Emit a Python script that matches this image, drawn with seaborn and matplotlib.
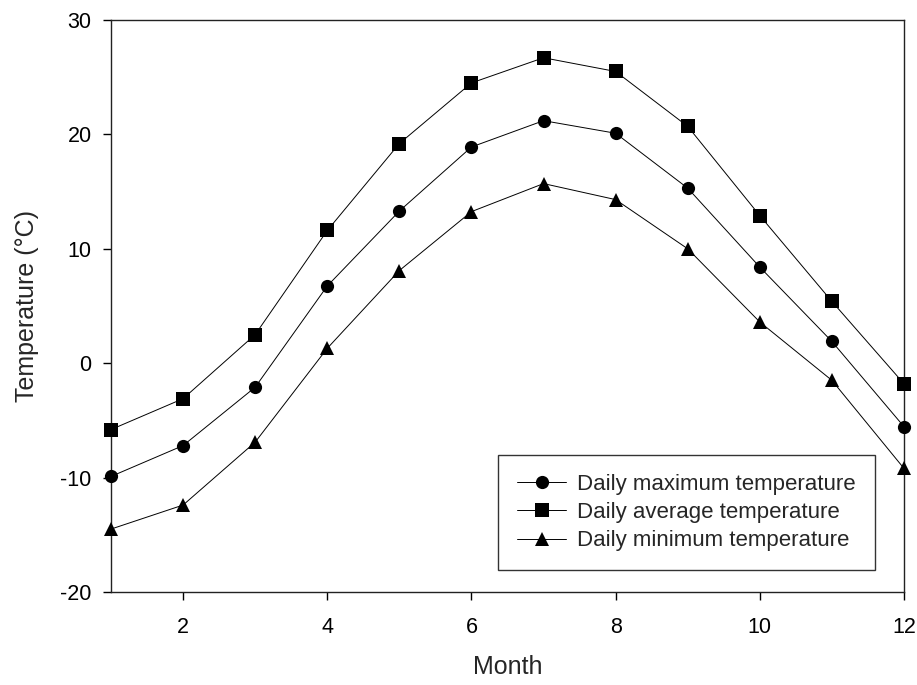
import matplotlib
matplotlib.use("Agg")
import matplotlib.pyplot as plt
import seaborn as sns
import pandas as pd

months = [1, 2, 3, 4, 5, 6, 7, 8, 9, 10, 11, 12]
daily_max = [-9.9, -7.2, -2.1, 6.75, 13.3, 18.9, 21.2, 20.1, 15.3, 8.4, 1.9, -5.55]
daily_avg = [-5.8, -3.1, 2.5, 11.6, 19.2, 24.5, 26.7, 25.5, 20.7, 12.9, 5.4, -1.8]
daily_min = [-14.5, -12.4, -6.9, 1.3, 8.1, 13.25, 15.7, 14.3, 10.0, 3.6, -1.5, -9.2]
labels = ["Daily maximum temperature", "Daily average temperature", "Daily minimum temperature"]
x_ticks = [2, 4, 6, 8, 10, 12]
y_ticks = [-20, -10, 0, 10, 20, 30]

sns.set_style("ticks")
plt.rcParams["font.family"] = ["Liberation Sans", "DejaVu Sans"]
plt.rcParams["axes.unicode_minus"] = False

df = pd.DataFrame({
    "Month": months * 3,
    "Temp": daily_max + daily_avg + daily_min,
    "Series": [labels[0]] * 12 + [labels[1]] * 12 + [labels[2]] * 12,
})

fig = plt.figure(figsize=(9.17, 6.85), dpi=100)
ax = fig.add_axes([111 / 917, 1 - 592 / 685, (904 - 111) / 917, (592 - 20) / 685])

sns.lineplot(
    data=df, x="Month", y="Temp", hue="Series", style="Series",
    hue_order=labels, style_order=labels,
    palette=["black"] * 3, markers={labels[0]: "o", labels[1]: "s", labels[2]: "^"},
    dashes=False, markersize=9.5, markeredgewidth=0, linewidth=0.7,
    ax=ax, clip_on=False, zorder=3,
)

ax.set_xlim(1, 12)
ax.set_ylim(-20, 30)
ax.set_xticks(x_ticks)
ax.set_yticks(y_ticks)
ax.tick_params(axis="both", direction="out", length=6, width=1, labelsize=15.5, colors="black", pad=8)
ax.tick_params(axis="x", pad=12)
for s in ax.spines.values():
    s.set_linewidth(1.0)
    s.set_color("#222222")
ax.set_xlabel("Month", fontsize=18, labelpad=12)
ax.set_ylabel("Temperature (°C)", fontsize=18, labelpad=15)

leg = ax.legend(
    loc="lower right", bbox_to_anchor=(0.963, 0.038), fontsize=16,
    frameon=True, fancybox=False, edgecolor="#333333", framealpha=1,
    handlelength=2.2, handletextpad=0.5, labelspacing=0.32, borderpad=0.85,
    borderaxespad=0,
)
leg.get_frame().set_linewidth(1.0)

fig.savefig("out.png", dpi=100)
